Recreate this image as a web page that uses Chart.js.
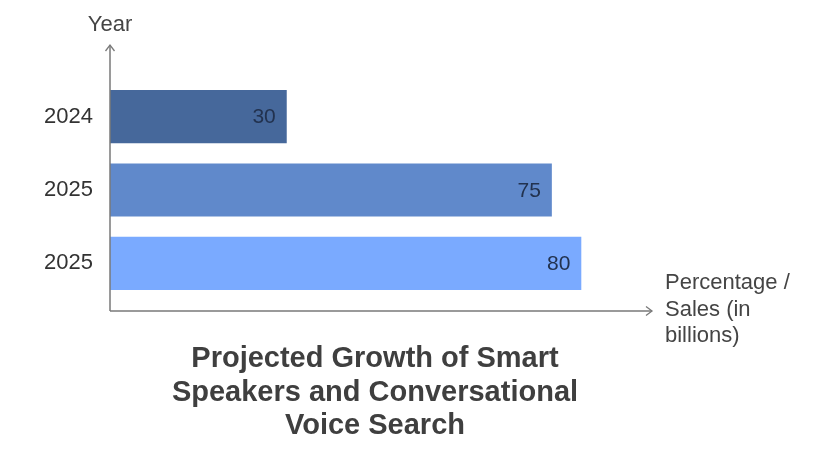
<!DOCTYPE html>
<html>
<head>
<meta charset="utf-8">
<script src="https://cdn.jsdelivr.net/npm/chart.js@4/dist/chart.umd.min.js"></script>
<style>
  html, body { margin: 0; padding: 0; background: #ffffff; }
  canvas { display: block; }
</style>
</head>
<body>
<canvas id="c" width="820" height="463"></canvas>
<script>
const categories = ["2024", "2025", "2025"];
const values = [30, 75, 80];
const barColors = ["#46689b", "#6089cb", "#7aaaff"];
const titleLines = ["Projected Growth of Smart", "Speakers and Conversational", "Voice Search"];
const yAxisName = "Year";
const xAxisNameLines = ["Percentage /", "Sales (in", "billions)"];

const FONT = "'Liberation Sans', Arial, Helvetica, sans-serif";

const decor = {
  id: 'decor',
  afterDatasetsDraw(chart) {
    const ctx = chart.ctx;
    const a = chart.chartArea;
    const x0 = a.left;
    const yTop = a.top - 35;
    const xAxisY = a.bottom + 11;
    const xEnd = a.right;
    ctx.save();
    ctx.strokeStyle = '#7a7a7a';
    ctx.lineWidth = 1.5;
    ctx.beginPath();
    ctx.moveTo(x0, xAxisY);
    ctx.lineTo(x0, yTop);
    ctx.moveTo(x0, xAxisY);
    ctx.lineTo(xEnd, xAxisY);
    ctx.stroke();
    // arrowheads
    ctx.lineWidth = 1.3;
    ctx.beginPath();
    ctx.moveTo(x0 - 4.5, yTop + 6);
    ctx.lineTo(x0, yTop);
    ctx.lineTo(x0 + 4.5, yTop + 6);
    ctx.moveTo(xEnd - 6, xAxisY - 4.5);
    ctx.lineTo(xEnd, xAxisY);
    ctx.lineTo(xEnd - 6, xAxisY + 4.5);
    ctx.stroke();

    // axis names
    ctx.fillStyle = '#444444';
    ctx.font = '22px ' + FONT;
    ctx.textAlign = 'center';
    ctx.textBaseline = 'alphabetic';
    ctx.fillText(yAxisName, x0, 31);
    ctx.textAlign = 'left';
    xAxisNameLines.forEach((t, i) => {
      ctx.fillText(t, xEnd + 13, xAxisY - 22 + i * 26.5);
    });

    // value labels
    const meta = chart.getDatasetMeta(0);
    ctx.fillStyle = '#22324f';
    ctx.font = '21px ' + FONT;
    ctx.textAlign = 'right';
    ctx.textBaseline = 'middle';
    meta.data.forEach((el, i) => {
      ctx.fillText(String(values[i]), el.x - 11, el.y + 1);
    });

    // chart title (below the plot)
    ctx.fillStyle = '#3f3f3f';
    ctx.font = 'bold 29px ' + FONT;
    ctx.textAlign = 'center';
    ctx.textBaseline = 'alphabetic';
    titleLines.forEach((t, i) => {
      ctx.fillText(t, 375, a.bottom + 67 + i * 33.5);
    });
    ctx.restore();
  }
};

new Chart(document.getElementById('c'), {
  type: 'bar',
  data: {
    labels: categories,
    datasets: [{
      data: values,
      backgroundColor: barColors,
      borderWidth: 0,
      barPercentage: 1,
      categoryPercentage: 0.726
    }]
  },
  options: {
    indexAxis: 'y',
    responsive: false,
    animation: false,
    events: [],
    layout: { padding: { left: 0, right: 168, top: 80, bottom: 163 } },
    scales: {
      x: {
        display: false,
        min: 0,
        max: 92
      },
      y: {
        grid: { display: false, drawTicks: false },
        border: { display: false },
        afterFit(scale) { scale.width = 110; },
        ticks: {
          autoSkip: false,
          padding: 17,
          color: '#333333',
          font: { family: FONT, size: 22 }
        }
      }
    },
    plugins: {
      legend: { display: false },
      tooltip: { enabled: false },
      title: { display: false }
    }
  },
  plugins: [decor]
});
</script>
</body>
</html>
